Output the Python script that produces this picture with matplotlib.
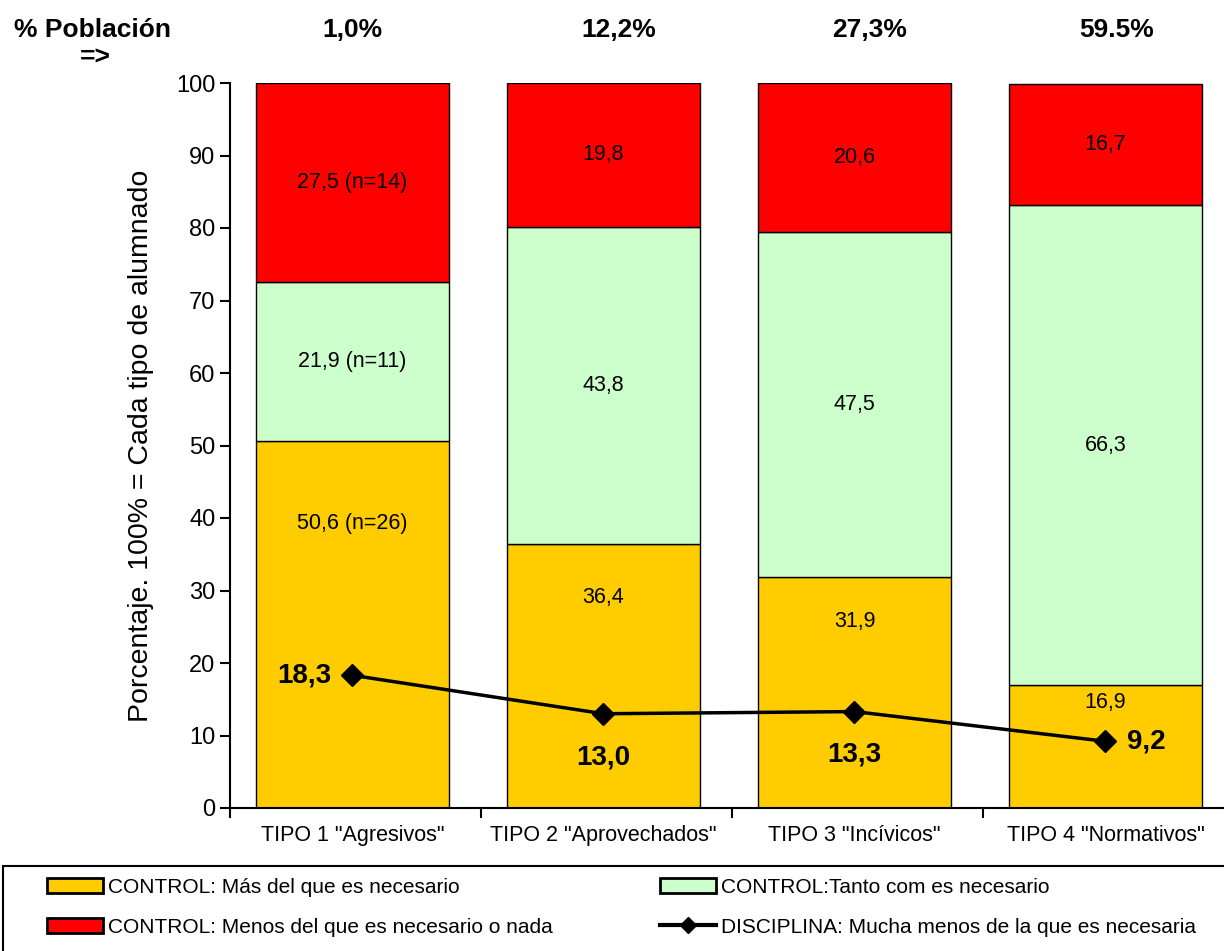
import numpy as np
import matplotlib.pyplot as plt
from matplotlib.patches import Patch, Rectangle
from matplotlib.lines import Line2D

plt.rcParams['font.family'] = ['Liberation Sans', 'DejaVu Sans']

# datos
tipos = ['TIPO 1 "Agresivos"', 'TIPO 2 "Aprovechados"', 'TIPO 3 "Incívicos"', 'TIPO 4 "Normativos"']
poblacion = ['1,0%', '12,2%', '27,3%', '59.5%']
ctrl_mas = [50.6, 36.4, 31.9, 16.9]
ctrl_tanto = [21.9, 43.8, 47.5, 66.3]
ctrl_menos = [27.5, 19.8, 20.6, 16.7]
disciplina = [18.3, 13.0, 13.3, 9.2]

lab_mas = ['50,6 (n=26)', '36,4', '31,9', '16,9']
lab_tanto = ['21,9 (n=11)', '43,8', '47,5', '66,3']
lab_menos = ['27,5 (n=14)', '19,8', '20,6', '16,7']
lab_disc = ['18,3', '13,0', '13,3', '9,2']

c_mas = '#FFCC00'
c_tanto = '#CCFFCC'
c_menos = '#FF0000'

W, H = 1224, 951
fig = plt.figure(figsize=(W / 100, H / 100), dpi=100)
# el eje sigue mas alla del borde derecho, como en el original
ax = fig.add_axes([230/W, 1 - 808/H, 1004/W, 725/H])

x = np.arange(len(tipos))
w = 0.77
b1 = np.array(ctrl_mas)
b2 = b1 + np.array(ctrl_tanto)
ax.bar(x, ctrl_mas, w, color=c_mas, edgecolor='black', linewidth=1)
ax.bar(x, ctrl_tanto, w, bottom=b1, color=c_tanto, edgecolor='black', linewidth=1)
ax.bar(x, ctrl_menos, w, bottom=b2, color=c_menos, edgecolor='black', linewidth=1)
ax.plot(x, disciplina, color='black', lw=2.5, marker='D', ms=11, zorder=5)

# etiquetas de los segmentos
y_mas = [39.2, 29.1, 25.7, 14.5]
fs_lab = 15.5
for i in range(4):
    ax.text(x[i], y_mas[i], lab_mas[i], ha='center', va='center', fontsize=fs_lab)
    ax.text(x[i], b1[i] + ctrl_tanto[i] / 2, lab_tanto[i], ha='center', va='center', fontsize=fs_lab)
    ax.text(x[i], b2[i] + ctrl_menos[i] / 2, lab_menos[i], ha='center', va='center', fontsize=fs_lab)

fs_b = 20
ax.text(x[0] - 0.085, disciplina[0], lab_disc[0], ha='right', va='center', fontsize=fs_b, fontweight='bold')
ax.text(x[1], 7.0, lab_disc[1], ha='center', va='center', fontsize=fs_b, fontweight='bold')
ax.text(x[2], 7.4, lab_disc[2], ha='center', va='center', fontsize=fs_b, fontweight='bold')
ax.text(x[3] + 0.085, disciplina[3], lab_disc[3], ha='left', va='center', fontsize=fs_b, fontweight='bold')

ax.set_xlim(-0.488, 3.512)
ax.set_ylim(0, 100)
ax.set_yticks(np.arange(0, 101, 10))
ax.tick_params(axis='y', labelsize=17, length=7, width=1.5, direction='out')
ax.set_xticks(np.arange(-0.488, 3.6, 1), minor=True)
ax.set_xticks(x)
ax.set_xticklabels(tipos, fontsize=15.5)
ax.tick_params(axis='x', which='major', length=0, pad=12)
ax.tick_params(axis='x', which='minor', length=7, width=1.5)
for s in ['top', 'right']:
    ax.spines[s].set_visible(False)
ax.spines['left'].set_linewidth(1.5)
ax.spines['bottom'].set_linewidth(1.5)
ax.set_ylabel('Porcentaje. 100% = Cada tipo de alumnado', fontsize=20.5, labelpad=16)

# % poblacion arriba
fig.text(92/W, 1 - 30/H, '% Población', ha='center', va='center', fontsize=19, fontweight='bold')
fig.text(95/W, 1 - 58/H, '=>', ha='center', va='center', fontsize=19, fontweight='bold')
px = [352, 619, 870, 1117]
for i in range(4):
    fig.text(px[i] / W, 1 - 30/H, poblacion[i], ha='center', va='center', fontsize=19, fontweight='bold')

# leyenda: marco y dos columnas
fig.add_artist(Rectangle((3/W, 1 - 955/H), 1.05, 89/H, transform=fig.transFigure,
                         facecolor='none', edgecolor='black', lw=1.5))
h_mas = Patch(facecolor=c_mas, edgecolor='black', lw=2)
h_menos = Patch(facecolor=c_menos, edgecolor='black', lw=2)
h_tanto = Patch(facecolor=c_tanto, edgecolor='black', lw=2)
h_disc = Line2D([], [], color='black', lw=3, marker='D', ms=8)
leg_kw = dict(loc='upper left', fontsize=15, frameon=False, handlelength=2.7,
              handleheight=0.75, borderpad=0, borderaxespad=0, labelspacing=1.0,
              handletextpad=0.25)
leg1 = fig.legend([h_mas, h_menos],
                  ['CONTROL: Más del que es necesario',
                   'CONTROL: Menos del que es necesario o nada'],
                  bbox_to_anchor=(47/W, 1 - 878/H), **leg_kw)
leg2 = fig.legend([h_tanto, h_disc],
                  ['CONTROL:Tanto com es necesario',
                   'DISCIPLINA: Mucha menos de la que es necesaria'],
                  bbox_to_anchor=(660/W, 1 - 878/H), **leg_kw)

fig.savefig('out.png', dpi=100)
